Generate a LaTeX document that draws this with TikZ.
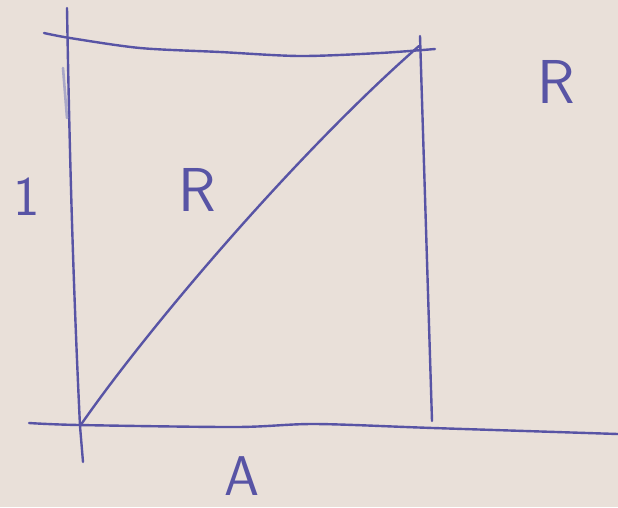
\documentclass[tikz,border=0pt]{standalone}
\definecolor{paper}{RGB}{233,224,217}
\definecolor{ink}{RGB}{88,84,165}
\definecolor{faint}{RGB}{170,168,200}
\tikzset{
  stroke/.style={draw=ink, line width=2.4pt, line cap=round, line join=round},
  retrace/.style={draw=faint, line width=2.6pt, line cap=round},
  lbl/.style={text=ink, inner sep=0pt, font=\fontsize{62}{62}\selectfont\sffamily},
  lblsmall/.style={lbl, font=\fontsize{56}{56}\selectfont\sffamily}
}
\begin{document}
\begin{tikzpicture}[x=1pt,y=-1pt]
\fill[paper] (0,0) rectangle (618,507);
\useasboundingbox (0,0) rectangle (618,507);
% corners
\coordinate (O) at (80,426);
\coordinate (TR) at (419,46);
\coordinate (BR) at (432,421);
\coordinate (leftTop) at (67,8);
\coordinate (leftBot) at (83,462);
% left vertical
\draw[stroke] (leftTop) .. controls (70,180) and (74,300) .. (O) -- (leftBot);
\draw[retrace] (63,68) -- (67,118);
% top horizontal
\draw[stroke] plot[smooth, tension=0.5] coordinates {(44,33) (70,38) (140,48) (220,52) (300,56) (380,53) (435,49)};
% baseline
\draw[stroke] plot[smooth, tension=0.5] coordinates {(29,423) (79,425) (236,427) (315,424) (433,428) (618,434)};
% right vertical
\draw[stroke] (420,36) -- (BR);
% diagonal
\draw[stroke] (O) .. controls (150,325) and (300,150) .. (TR);
% labels
\node[lblsmall] (one) at (27,197) {1};
\node[lbl] (r1) at (197,190) {R};
\node[lbl] (r2) at (556,82) {R};
\node[lblsmall] (a) at (242,476) {A};
\end{tikzpicture}
\end{document}
